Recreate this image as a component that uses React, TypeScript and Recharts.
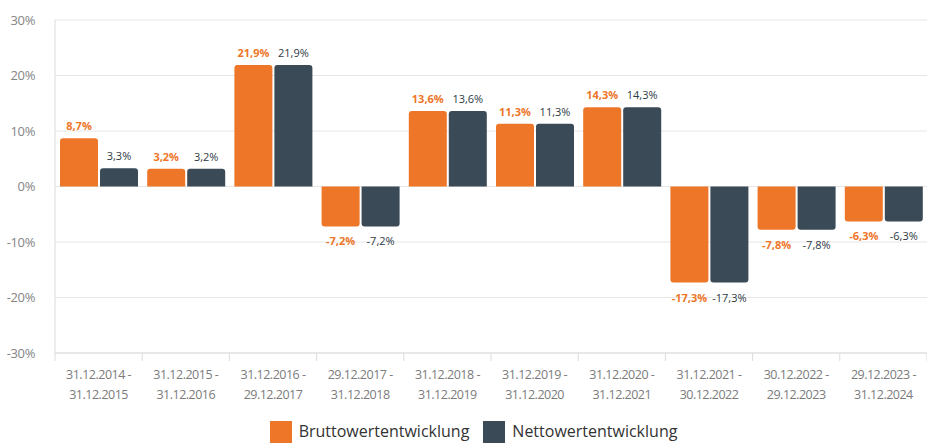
import React from 'react'
import { BarChart, Bar, XAxis, YAxis, CartesianGrid, Legend, LabelList } from 'recharts'

const periodStart = ['31.12.2014', '31.12.2015', '31.12.2016', '29.12.2017', '31.12.2018', '31.12.2019', '31.12.2020', '31.12.2021', '30.12.2022', '29.12.2023']
const periodEnd = ['31.12.2015', '31.12.2016', '29.12.2017', '31.12.2018', '31.12.2019', '31.12.2020', '31.12.2021', '30.12.2022', '29.12.2023', '31.12.2024']
const brutto = [8.7, 3.2, 21.9, -7.2, 13.6, 11.3, 14.3, -17.3, -7.8, -6.3]
const netto = [3.3, 3.2, 21.9, -7.2, 13.6, 11.3, 14.3, -17.3, -7.8, -6.3]
const yTicks = [-30, -20, -10, 0, 10, 20, 30]

const ORANGE = '#ee7629'
const SLATE = '#3a4a56'
const FONT = "'Open Sans', sans-serif"

const W = 927
const H = 445
const PLOT_LEFT = 55
const BAND = (W - PLOT_LEFT) / periodStart.length

const data = periodStart.map((s, i) => ({
  name: `${s} - ${periodEnd[i]}`,
  brutto: brutto[i],
  netto: netto[i],
}))

const pct = (v: any) => `${Number(v).toFixed(1).replace('.', ',')}%`

function CategoryTick(props: any) {
  const { x, y, index } = props
  const left = x - BAND / 2
  return (
    <g>
      <line x1={left} y1={y - 8} x2={left} y2={y} stroke="#dcdcdc" />
      {index === periodStart.length - 1 && (
        <line x1={left + BAND} y1={y - 8} x2={left + BAND} y2={y} stroke="#dcdcdc" />
      )}
      <text x={x} y={y + 18} textAnchor="middle" fill="#7b7b7b" fontSize={12.5} letterSpacing={-0.5} fontFamily={FONT}>
        <tspan x={x}>{`${periodStart[index]} -`}</tspan>
        <tspan x={x} dy={20}>{periodEnd[index]}</tspan>
      </text>
    </g>
  )
}

// value label above positive bars, below negative ones
function makeLabel(color: string, weight: number) {
  return function ValueLabel(props: any) {
    const { x, y, width, height, value } = props
    const top = Math.min(y, y + height)
    const bottom = Math.max(y, y + height)
    const neg = Number(value) < 0
    return (
      <text
        x={x + width / 2}
        y={neg ? bottom + 19 : top - 8}
        textAnchor="middle"
        fill={color}
        fontSize={11}
        fontWeight={weight}
        fontFamily={FONT}
      >
        {pct(value)}
      </text>
    )
  }
}

function LegendBox() {
  const items = [
    { label: 'Bruttowertentwicklung', color: ORANGE },
    { label: 'Nettowertentwicklung', color: SLATE },
  ]
  return (
    <div style={{ display: 'flex', justifyContent: 'center', gap: 14, height: 24, paddingLeft: 20, boxSizing: 'border-box' }}>
      {items.map((it) => (
        <div key={it.label} style={{ display: 'flex', alignItems: 'flex-start', gap: 7 }}>
          <span style={{ width: 22, height: 22, background: it.color, display: 'inline-block' }} />
          <span style={{ fontFamily: FONT, fontSize: 16, color: '#333', lineHeight: '20px' }}>{it.label}</span>
        </div>
      ))}
    </div>
  )
}

export default function App() {
  return (
    <div style={{ position: 'absolute', left: 0, top: 0, width: W, height: 445, overflow: 'hidden', background: '#fff' }}>
      <BarChart
        width={W}
        height={H}
        data={data}
        margin={{ top: 20, right: 0, bottom: 0, left: 0 }}
        barCategoryGap={5}
        barGap={2}
      >
        <CartesianGrid vertical={false} stroke="#e6e6e6" />
        <XAxis
          dataKey="name"
          interval={0}
          height={68}
          axisLine={{ stroke: '#dcdcdc' }}
          tickLine={false}
          tick={<CategoryTick />}
        />
        <YAxis
          domain={[-30, 30]}
          ticks={yTicks}
          width={PLOT_LEFT}
          tickFormatter={(v) => `${v}%`}
          axisLine={{ stroke: '#dcdcdc' }}
          tickLine={false}
          tickMargin={14}
          tick={{ fill: '#858585', fontSize: 13, fontFamily: FONT, letterSpacing: -0.4 }}
        />
        <Legend verticalAlign="bottom" content={<LegendBox />} />
        <Bar dataKey="brutto" fill={ORANGE} radius={[3, 3, 0, 0]} isAnimationActive={false}>
          <LabelList dataKey="brutto" content={makeLabel(ORANGE, 700)} />
        </Bar>
        <Bar dataKey="netto" fill={SLATE} radius={[3, 3, 0, 0]} isAnimationActive={false}>
          <LabelList dataKey="netto" content={makeLabel('#2e3a44', 400)} />
        </Bar>
      </BarChart>
    </div>
  )
}
